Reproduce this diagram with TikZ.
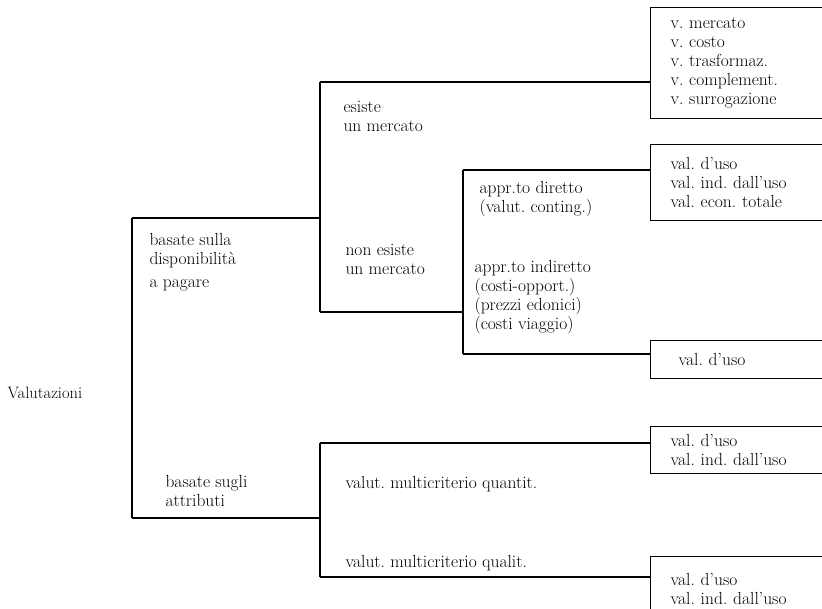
\documentclass[tikz,border=0pt]{standalone}
\usepackage{tikz}
\usetikzlibrary{positioning}
\frenchspacing

\begin{document}
\begin{tikzpicture}[x=1pt, y=-1pt, line width=1.1pt,
    lab/.style={align=left, anchor=west, inner sep=0pt, font=\fontsize{17.5}{19}\selectfont},
    valbox/.style={draw, rectangle, anchor=north west, text width=170pt, inner xsep=20pt, inner ysep=0pt, align=left, font=\fontsize{17.5}{19}\selectfont}]
\useasboundingbox (0,0) rectangle (822,609);

% Labels
\node[lab, font=\fontsize{16.5}{19}\selectfont] (val) at (7,393) {Valutazioni};
\node[lab] (wtp) at (149,262) {basate sulla\\disponibilità\\[4pt]a pagare};
\node[lab] (attr) at (165,491) {basate sugli\\attributi};
\node[lab] (esiste) at (343,116) {esiste\\un mercato};
\node[lab] (nonesiste) at (345,259) {non esiste\\un mercato};
\node[lab] (diretto) at (479,199) {appr.to diretto\\(valut. conting.)};
\node[lab] (indiretto) at (474,297) {appr.to indiretto\\(costi-opport.)\\(prezzi edonici)\\(costi viaggio)};
\node[lab] (quantit) at (345,484) {valut. multicriterio quantit.};
\node[lab] (qualit) at (345,563) {valut. multicriterio qualit.};

% Boxes
\node[valbox, minimum height=111pt] (vmerc) at (650,7) {v. mercato\\v. costo\\v. trasformaz.\\v. complement.\\v. surrogazione};
\node[valbox, minimum height=76pt] (vdir) at (650,144) {val. d'uso\\val. ind. dall'uso\\val. econ. totale};
\node[valbox, minimum height=38pt] (vind) at (650,340) {\hspace*{8pt}val. d'uso};
\node[valbox, minimum height=47pt] (vquant) at (650,426) {val. d'uso\\val. ind. dall'uso};
\node[valbox, minimum height=64pt] (vqual) at (650,556) {val. d'uso\\val. ind. dall'uso};

% Brackets
\coordinate (s1t) at (132,218);
\coordinate (s1b) at (132,518);
\coordinate (s2t) at (320,82);
\coordinate (s2b) at (320,312);
\coordinate (s3t) at (463,170);
\coordinate (s3b) at (463,354);
\coordinate (s4t) at (320,443);
\coordinate (s4b) at (320,577);

\draw (s1t) -- (s1b);
\draw (s1t) -- (s1t -| s2t);
\draw (s1b) -- (s1b -| s4t);

\draw (s2t) -- (s2b);
\draw (s2t) -- (s2t -| vmerc.west);
\draw (s2b) -- (s2b -| s3t);

\draw (s3t) -- (s3b);
\draw (s3t) -- (s3t -| vdir.west);
\draw (s3b) -- (s3b -| vind.west);

\draw (s4t) -- (s4b);
\draw (s4t) -- (s4t -| vquant.west);
\draw (s4b) -- (s4b -| vqual.west);

\end{tikzpicture}
\end{document}
